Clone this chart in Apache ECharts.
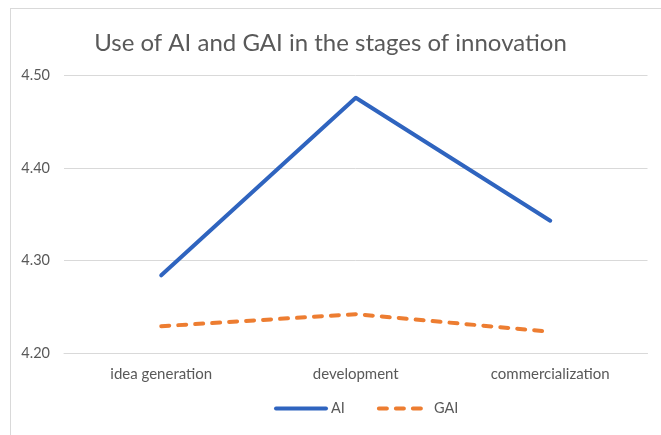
<!DOCTYPE html>
<html>
<head>
<meta charset="utf-8">
<script src="https://cdn.jsdelivr.net/npm/echarts@6/dist/echarts.min.js"></script>
<style>
  html, body { margin: 0; padding: 0; background: #fff; }
  #wrap { position: relative; width: 661px; height: 435px; overflow: hidden; }
  #frame { position: absolute; left: 10px; top: 8px; width: 700px; height: 500px; border: 1px solid #d9d9d9; box-sizing: border-box; }
  #chart { position: absolute; left: 0; top: 0; width: 661px; height: 435px; }
</style>
</head>
<body>
<div id="wrap">
  <div id="frame"></div>
  <div id="chart"></div>
</div>
<script>
const stages = ['idea generation', 'development', 'commercialization']
const aiValues = [4.284, 4.476, 4.343]
const gaiValues = [4.229, 4.242, 4.223]
const yTicks = { min: 4.2, max: 4.5, interval: 0.1 }

const chart = echarts.init(document.getElementById('chart'))
const font = 'Lato, "Open Sans", sans-serif'

chart.setOption({
  animation: false,
  textStyle: { fontFamily: font },
  title: {
    text: 'Use of AI and GAI in the stages of innovation',
    left: 'center',
    top: 26,
    textStyle: { color: '#595959', fontSize: 24, fontWeight: 'normal', fontFamily: font }
  },
  grid: { left: 64, right: 13.5, top: 75.5, bottom: 82 },
  legend: {
    bottom: 14,
    left: 269,
    itemWidth: 50,
    itemHeight: 12,
    itemGap: 32,
    itemStyle: { opacity: 0 },
    lineStyle: { width: 4, cap: 'round' },
    textStyle: { color: '#595959', fontSize: 14.5, fontFamily: font },
    data: ['AI', 'GAI']
  },
  xAxis: {
    type: 'category',
    data: stages,
    boundaryGap: true,
    axisLine: { lineStyle: { color: '#d9d9d9', width: 1 } },
    axisTick: { show: false },
    axisLabel: { color: '#595959', fontSize: 15, margin: 14 }
  },
  yAxis: {
    type: 'value',
    min: yTicks.min,
    max: yTicks.max,
    interval: yTicks.interval,
    axisLine: { show: false },
    axisTick: { show: false },
    axisLabel: { color: '#595959', fontSize: 14.5, margin: 14, formatter: v => v.toFixed(2) },
    splitLine: { lineStyle: { color: '#d9d9d9', width: 1 } }
  },
  series: [
    {
      name: 'AI',
      type: 'line',
      data: aiValues,
      showSymbol: false,
      symbol: 'none',
      color: '#2F64BF',
      lineStyle: { color: '#2F64BF', width: 4, cap: 'round', join: 'round' }
    },
    {
      name: 'GAI',
      type: 'line',
      data: gaiValues,
      showSymbol: false,
      symbol: 'none',
      color: '#ED7D31',
      lineStyle: { color: '#ED7D31', width: 4, type: [8, 9], cap: 'round', join: 'round' }
    }
  ]
})
</script>
</body>
</html>
